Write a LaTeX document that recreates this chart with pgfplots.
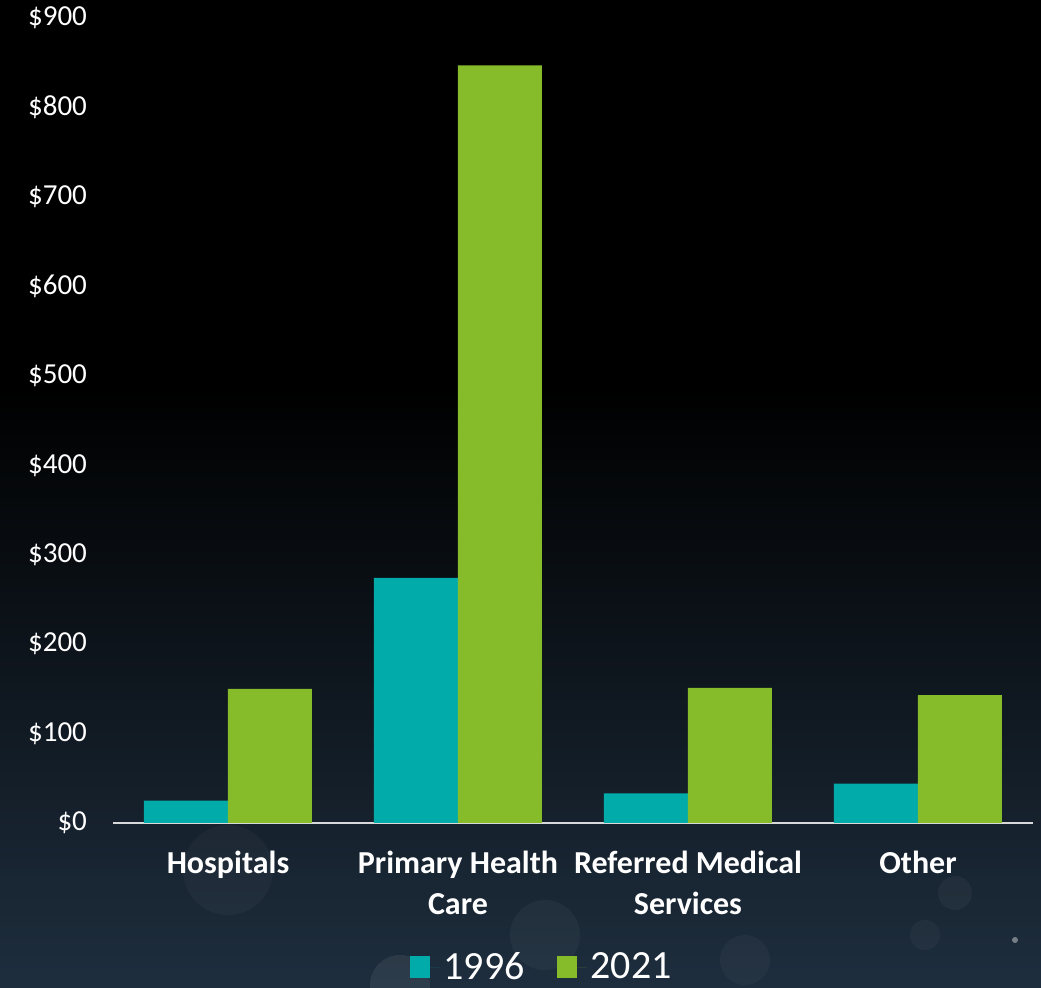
\documentclass[border=0pt]{standalone}
\usepackage{pgfplots}
\pgfplotsset{compat=1.18}
\usepackage{fontspec}
\setmainfont{Carlito}
\definecolor{teal96}{RGB}{0,171,170}
\definecolor{green21}{RGB}{134,188,41}
\definecolor{bgbot}{RGB}{30,46,62}
\definecolor{axisgray}{RGB}{217,217,217}

\begin{document}
\begin{tikzpicture}
% background
\fill[black] (0,0) rectangle (520.5pt,494pt);
\shade[top color=black, bottom color=bgbot] (0,0) rectangle (520.5pt,300pt);
% faint bokeh
\begin{scope}[white]
  \fill[opacity=0.03] (114pt,59pt) circle (22.5pt);
  \fill[opacity=0.04] (272.5pt,26.5pt) circle (17.5pt);
  \fill[opacity=0.03] (372.5pt,14pt) circle (12.5pt);
  \fill[opacity=0.04] (477.5pt,47.5pt) circle (8.5pt);
  \fill[opacity=0.03] (462.5pt,26.5pt) circle (7.5pt);
  \fill[opacity=0.07] (200pt,1.5pt) circle (15pt);
  \fill[opacity=0.4] (507.5pt,24pt) circle (1.5pt);
\end{scope}

\begin{axis}[
  at={(56.5pt,82.5pt)}, anchor=south west,
  scale only axis,
  width=460pt, height=402.5pt,
  xmin=-0.5, xmax=3.5,
  ymin=0, ymax=900,
  ybar=0pt, bar width=42pt,
  axis x line*=bottom, axis y line*=left,
  x axis line style={draw=axisgray, line width=1pt, -},
  y axis line style={draw=none},
  xtick=data,
  xticklabels={Hospitals, Primary Health\\Care, Referred Medical\\Services, Other},
  ytick={0,100,...,900},
  yticklabels={\$0,\$100,\$200,\$300,\$400,\$500,\$600,\$700,\$800,\$900},
  major tick length=0pt,
  xticklabel style={text=white, font=\fontsize{16}{20.5}\selectfont\bfseries, align=center, yshift=-10.5pt},
  yticklabel style={text=white, font=\fontsize{14.5}{17}\selectfont, xshift=-9.5pt},
  legend columns=2,
  legend style={at={(0.467,-0.179)}, anchor=center, draw=none, fill=none,
    text=white, font=\fontsize{20}{24}\selectfont,
    /tikz/every even column/.append style={column sep=14pt}},
]
\addplot[fill=teal96, draw=none,
  legend image code/.code={\fill[teal96] (0pt,-5.5pt) rectangle (10pt,5.5pt);
    \path (0pt,0pt) -- (15pt,0pt);}]
  coordinates {(0,25) (1,274) (2,33) (3,44)};
\addplot[fill=green21, draw=none,
  legend image code/.code={\fill[green21] (0pt,-5.5pt) rectangle (10pt,5.5pt);
    \path (0pt,0pt) -- (15pt,0pt);}]
  coordinates {(0,150) (1,847) (2,151) (3,143)};
\legend{1996, 2021}
\end{axis}
\pgfresetboundingbox
\useasboundingbox (0,0) rectangle (520.5pt,494pt);
\end{tikzpicture}
\end{document}
